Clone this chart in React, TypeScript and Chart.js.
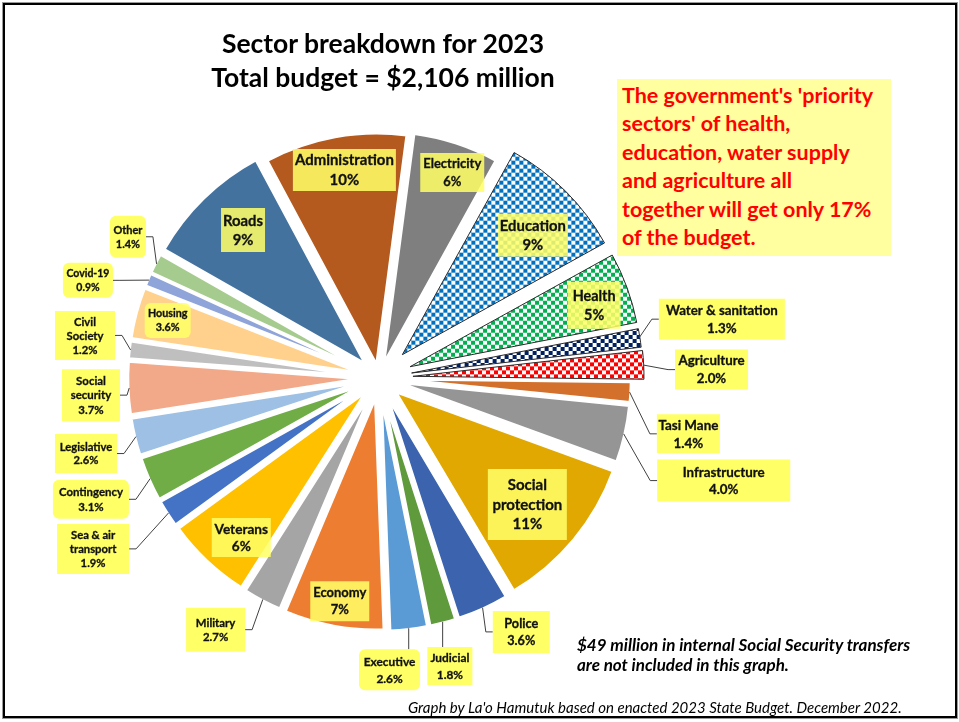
import { useEffect, useRef } from 'react';
import { Chart, ArcElement, PieController } from 'chart.js';

// ---------- data ----------
const categories = [
  'Administration', 'Electricity', 'Education', 'Health', 'Water & sanitation', 'Agriculture',
  'Tasi Mane', 'Infrastructure', 'Social protection', 'Police', 'Judicial', 'Executive',
  'Economy', 'Military', 'Veterans', 'Sea & air transport', 'Contingency', 'Legislative',
  'Social security', 'Civil Society', 'Housing', 'Covid-19', 'Other', 'Roads',
];
const shares = [10, 6, 9, 5, 1.3, 2.0, 1.4, 4.0, 11, 3.6, 1.8, 2.6, 7, 2.7, 6, 1.9, 3.1, 2.6, 3.7, 1.2, 3.6, 0.9, 1.4, 9];

const titleLines = ['Sector breakdown for 2023', 'Total budget = $2,106 million'];
const noteLines = [
  "The government's 'priority",
  "sectors' of health,",
  'education, water supply',
  'and agriculture all',
  'together will get only 17%',
  'of the budget.',
];
const footLines = ['$49 million in internal Social Security transfers', 'are not included in this graph.'];
const creditLine = "Graph by La'o Hamutuk based on enacted 2023 State Budget. December 2022.";

// ---------- styles ----------
const sliceColors = [
  '#B45A1F', '#7F7F7F', '#0070C0', '#00B050', '#002060', '#FF0000',
  '#D2702C', '#959595', '#E0A800', '#3B63AE', '#5F9A3D', '#5B9BD5',
  '#ED7D31', '#A5A5A5', '#FFC000', '#4472C4', '#70AD47', '#9DC0E4',
  '#F2A98A', '#BFBFBF', '#FFD18C', '#8FA4D8', '#A6CB8E', '#44729E',
];
const checkered = [false, false, true, true, true, true, false, false, false, false, false, false,
  false, false, false, false, false, false, false, false, false, false, false, false];
// explosion distance of each slice, px
const explode = [14, 16, 33, 33, 33, 34, 21, 21, 22, 22, 22, 22, 21, 20, 20, 20, 20, 20, 20, 20, 20, 20, 20, 20];

// label placement: angle nudge (deg) from slice middle, distance as fraction of radius,
// box size, target text width of widest name line, line height
type Lab = { da: number; rf: number; w: number; h: number; tw: number; lh: number; out?: boolean; round?: boolean; lines?: string[] };
const labelLayout: Lab[] = [
  { da: 0.9, rf: 0.913, w: 103, h: 42, tw: 99, lh: 20 },
  { da: 1.4, rf: 0.944, w: 64, h: 39, tw: 58, lh: 18 },
  { da: 2.1, rf: 0.909, w: 70, h: 43, tw: 66, lh: 19 },
  { da: 1.3, rf: 0.983, w: 53, h: 47, tw: 43, lh: 19 },
  { da: -1.0, rf: 1.506, w: 126, h: 41, tw: 112, lh: 17.5, out: true },
  { da: 1.4, rf: 1.44, w: 73, h: 40, tw: 66, lh: 18, out: true },
  { da: 7.0, rf: 1.361, w: 63, h: 39, tw: 60, lh: 18, out: true },
  { da: 3.7, rf: 1.557, w: 133, h: 42, tw: 82, lh: 17, out: true },
  { da: 0.8, rf: 0.844, w: 79, h: 71, tw: 70, lh: 19.5, lines: ['Social', 'protection'] },
  { da: -5.0, rf: 1.26, w: 57, h: 42, tw: 34, lh: 17, out: true },
  { da: 0.8, rf: 1.284, w: 45, h: 38, tw: 39, lh: 17, out: true },
  { da: 4.7, rf: 1.264, w: 61, h: 41, tw: 51.5, lh: 17, out: true, round: true },
  { da: -0.4, rf: 0.981, w: 59, h: 40, tw: 53, lh: 17 },
  { da: 5.3, rf: 1.299, w: 59, h: 44, tw: 39.5, lh: 13.5, out: true },
  { da: -2.4, rf: 0.912, w: 59, h: 39, tw: 53.5, lh: 17 },
  { da: 1.8, rf: 1.442, w: 72, h: 50, tw: 46.5, lh: 14, out: true, lines: ['Sea & air', 'transport'] },
  { da: 0.9, rf: 1.353, w: 76, h: 39, tw: 64, lh: 15, out: true, round: true },
  { da: -0.9, rf: 1.31, w: 62, h: 39, tw: 52.5, lh: 13.5, out: true },
  { da: -1.1, rf: 1.249, w: 58, h: 52, tw: 40.5, lh: 14.5, out: true, lines: ['Social', 'security'] },
  { da: 1.8, rf: 1.286, w: 60, h: 49, tw: 37, lh: 14, out: true, lines: ['Civil', 'Society'] },
  { da: 0.2, rf: 0.948, w: 46, h: 35, tw: 39.5, lh: 14, round: true },
  { da: -4.5, rf: 1.329, w: 50, h: 35, tw: 43, lh: 14, out: true, round: true },
  { da: 2.2, rf: 1.247, w: 36, h: 42, tw: 29, lh: 14, out: true, round: true },
  { da: 1.7, rf: 0.87, w: 44, h: 44, tw: 40, lh: 19 },
];

const FONT = "Lato, 'Open Sans', sans-serif";
const fmtPct = (v: number) => (v >= 5 ? `${Math.round(v)}%` : `${v.toFixed(1)}%`);

// Pie controller whose slices are pulled out of the centre by a fixed distance
class ExplodedPieController extends PieController {
  static id = 'explodedPie';
  static defaults = PieController.defaults;
  static overrides = PieController.overrides;
  draw() {
    const ctx = (this as any).chart.ctx as CanvasRenderingContext2D;
    const meta = (this as any)._cachedMeta;
    meta.data.forEach((el: any, i: number) => {
      const e = explode[i] || 0;
      const mid = (el.startAngle + el.endAngle) / 2;
      ctx.save();
      ctx.translate(Math.cos(mid) * e, Math.sin(mid) * e);
      el.draw(ctx);
      ctx.restore();
    });
  }
}

Chart.register(ArcElement, PieController, ExplodedPieController);

function checker(color: string): CanvasPattern | string {
  const c = document.createElement('canvas');
  c.width = 8;
  c.height = 8;
  const g = c.getContext('2d');
  if (!g) return color;
  g.fillStyle = '#ffffff';
  g.fillRect(0, 0, 8, 8);
  g.fillStyle = color;
  g.fillRect(0, 0, 4, 4);
  g.fillRect(4, 4, 4, 4);
  return g.createPattern(c, 'repeat') || color;
}

function boxPath(ctx: CanvasRenderingContext2D, x: number, y: number, w: number, h: number, r: number) {
  ctx.beginPath();
  ctx.moveTo(x + r, y);
  ctx.lineTo(x + w - r, y);
  ctx.arcTo(x + w, y, x + w, y + r, r);
  ctx.lineTo(x + w, y + h - r);
  ctx.arcTo(x + w, y + h, x + w - r, y + h, r);
  ctx.lineTo(x + r, y + h);
  ctx.arcTo(x, y + h, x, y + h - r, r);
  ctx.lineTo(x, y + r);
  ctx.arcTo(x, y, x + r, y, r);
  ctx.closePath();
}

const labelPlugin = {
  id: 'sliceLabels',
  afterDatasetsDraw(chart: any) {
    const ctx: CanvasRenderingContext2D = chart.ctx;
    const meta = chart.getDatasetMeta(0);
    ctx.save();
    meta.data.forEach((arc: any, i: number) => {
      const p = arc.getProps(['x', 'y', 'startAngle', 'endAngle', 'outerRadius'], true);
      const off = explode[i] || 0;
      const mid = (p.startAngle + p.endAngle) / 2;
      const L = labelLayout[i];
      const a = mid + (L.da * Math.PI) / 180;
      const cx = p.x + Math.cos(a) * L.rf * p.outerRadius;
      const cy = p.y + Math.sin(a) * L.rf * p.outerRadius;
      const bx = cx - L.w / 2;
      const by = cy - L.h / 2;

      if (L.out) {
        const sr = p.outerRadius + off - 1;
        const sx = p.x + Math.cos(mid) * sr;
        const sy = p.y + Math.sin(mid) * sr;
        ctx.strokeStyle = '#404040';
        ctx.lineWidth = 1;
        ctx.beginPath();
        if (sx > bx + 4 && sx < bx + L.w - 4 && sy < by) {
          ctx.moveTo(sx, sy);
          ctx.lineTo(sx, by);
        } else if (cx > sx) {
          ctx.moveTo(sx, sy);
          ctx.lineTo(bx - 7, cy);
          ctx.lineTo(bx, cy);
        } else {
          ctx.moveTo(sx, sy);
          ctx.lineTo(bx + L.w + 7, cy);
          ctx.lineTo(bx + L.w, cy);
        }
        ctx.stroke();
      }

      ctx.fillStyle = L.out ? '#FFFF66' : 'rgba(255,255,102,0.86)';
      boxPath(ctx, bx, by, L.w, L.h, L.round ? 6 : 0);
      ctx.fill();

      const names = L.lines || [categories[i]];
      ctx.font = `bold 20px ${FONT}`;
      const w20 = Math.max(...names.map((t) => ctx.measureText(t).width));
      const fs = (20 * L.tw) / w20;
      const lines = [...names, fmtPct(shares[i])];
      ctx.fillStyle = '#111111';
      ctx.strokeStyle = '#111111';
      ctx.lineWidth = 0.3;
      ctx.font = `bold ${fs.toFixed(2)}px ${FONT}`;
      ctx.textAlign = 'center';
      ctx.textBaseline = 'middle';
      const y0 = cy - ((lines.length - 1) * L.lh) / 2;
      lines.forEach((t, k) => {
        ctx.fillText(t, cx, y0 + k * L.lh + 0.5);
        ctx.strokeText(t, cx, y0 + k * L.lh + 0.5);
      });
    });
    ctx.restore();
  },
};

export default function App() {
  const ref = useRef<HTMLCanvasElement | null>(null);

  useEffect(() => {
    if (!ref.current) return;
    const bg = sliceColors.map((c, i) => (checkered[i] ? checker(c) : c));
    const chart = new Chart(ref.current, {
      type: 'explodedPie' as any,
      data: {
        labels: categories,
        datasets: [
          {
            data: shares,
            backgroundColor: bg as any,
            borderColor: checkered.map((c) => (c ? '#2b2b2b' : '#ffffff')),
            borderWidth: checkered.map((c) => (c ? 1 : 2.5)),
            radius: 231,
          } as any,
        ],
      },
      options: {
        responsive: false,
        animation: false,
        events: [],
        rotation: -28.2,
        layout: { padding: { left: 0, right: 201, top: 34, bottom: 0 } },
        plugins: { legend: { display: false }, tooltip: { enabled: false } } as any,
      } as any,
      plugins: [labelPlugin],
    });
    return () => chart.destroy();
  }, []);

  return (
    <div style={{ position: 'fixed', left: 0, top: 0, width: 959, height: 722, background: '#fff', overflow: 'hidden', fontFamily: FONT }}>
      <canvas ref={ref} width={959} height={722} style={{ position: 'absolute', left: 0, top: 0, width: 959, height: 722 }} />
      <div style={{ position: 'absolute', left: 3, top: 3, width: 954, height: 715, boxSizing: 'border-box', border: '2px solid #000', boxShadow: '0 0 0 1px #9a9a9a' }} />
      <div style={{ position: 'absolute', left: 0, top: 25.5, width: 766, textAlign: 'center', font: `bold 26.5px ${FONT}`, lineHeight: '34px', color: '#000', whiteSpace: 'nowrap' }}>
        {titleLines.map((t) => <div key={t}>{t}</div>)}
      </div>
      <div style={{ position: 'absolute', left: 617, top: 79, width: 274, height: 177, background: '#FFFF9F', boxSizing: 'border-box', padding: '1.5px 0 0 5px' }}>
        {noteLines.map((t) => (
          <div key={t} style={{ font: `bold 21.5px ${FONT}`, lineHeight: '28.5px', color: '#FF0000', whiteSpace: 'nowrap' }}>{t}</div>
        ))}
      </div>
      <div style={{ position: 'absolute', left: 577, top: 635.4, font: `italic bold 17px ${FONT}`, lineHeight: '20px', color: '#000', whiteSpace: 'nowrap' }}>
        {footLines.map((t) => <div key={t}>{t}</div>)}
      </div>
      <div style={{ position: 'absolute', left: 408, top: 698.7, font: `italic 15px ${FONT}`, lineHeight: '17px', color: '#000', whiteSpace: 'nowrap' }}>
        {creditLine}
      </div>
    </div>
  );
}
